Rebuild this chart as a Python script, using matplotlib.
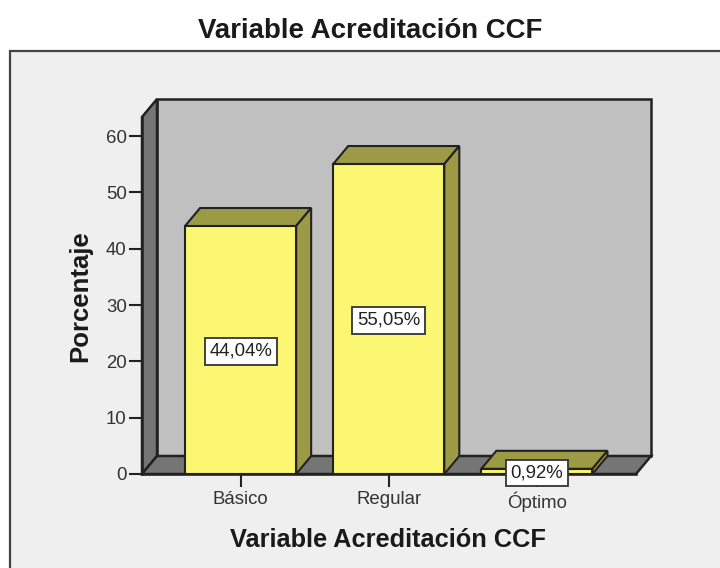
import matplotlib
matplotlib.use('Agg')
import matplotlib.pyplot as plt
from matplotlib.patches import Polygon, Rectangle

plt.rcParams['font.family'] = ['Liberation Sans', 'DejaVu Sans']

categories = ['Básico', 'Regular', 'Óptimo']
values = [44.04, 55.05, 0.92]
labels = ['44,04%', '55,05%', '0,92%']
yticks = [0, 10, 20, 30, 40, 50, 60]

edge = '#222222'
front = '#fcf772'
shade = '#9c9a45'
wall = '#c0c0c0'
floor = '#757575'

fig = plt.figure(figsize=(7.2, 5.68), dpi=100, facecolor='white')

# grey panel behind the plot, runs off the right and bottom of the image
panel = Rectangle((10 / 720, -0.02), 0.99, 1 - 51 / 568 + 0.02, transform=fig.transFigure,
                  facecolor='#efefef', edgecolor='#444444', linewidth=1.6, zorder=-1)
fig.patches.append(panel)

ax = fig.add_axes([142 / 720, (568 - 474) / 568, 494 / 720, 357 / 568])
ax.set_xlim(-0.6655, 2.669)
ax.set_ylim(0, 63.4)
ax.patch.set_visible(False)

dx = 15 / 148  # depth offset, x units
dy = 18 / 5.63   # depth offset, y units
x0, x1 = ax.get_xlim()
y1 = ax.get_ylim()[1]
bw = 0.75

ax.add_patch(Polygon([(x0 + dx, dy), (x1 + dx, dy), (x1 + dx, y1 + dy), (x0 + dx, y1 + dy)],
                     facecolor=wall, edgecolor=edge, linewidth=1.8, clip_on=False, zorder=1))
ax.add_patch(Polygon([(x0, 0), (x0 + dx, dy), (x0 + dx, y1 + dy), (x0, y1)],
                     facecolor=floor, edgecolor=edge, linewidth=1.8, clip_on=False, zorder=1.1))
ax.add_patch(Polygon([(x0, 0), (x1, 0), (x1 + dx, dy), (x0 + dx, dy)],
                     facecolor=floor, edgecolor=edge, linewidth=1.8, clip_on=False, zorder=1.1))

pos = list(range(len(values)))
ax.bar(pos, values, width=bw, color=front, edgecolor=edge, linewidth=1.5, zorder=3)
for p, v in zip(pos, values):
    l, r = p - bw / 2, p + bw / 2
    ax.add_patch(Polygon([(l, v), (r, v), (r + dx, v + dy), (l + dx, v + dy)],
                         facecolor=shade, edgecolor=edge, linewidth=1.5, clip_on=False, zorder=2.5))
    ax.add_patch(Polygon([(r, 0), (r + dx, dy), (r + dx, v + dy), (r, v)],
                         facecolor=shade, edgecolor=edge, linewidth=1.5, clip_on=False, zorder=2.5))

for p, v, t in zip(pos, values, labels):
    ax.annotate(t, (p, v / 2), xytext=(0, -1), textcoords='offset points', ha='center', va='center',
                fontsize=13.4, color='#222222', zorder=6, annotation_clip=False,
                bbox=dict(boxstyle='square,pad=0.25', facecolor='white', edgecolor='#333333', linewidth=1.3))

ax.set_xticks(pos)
ax.set_xticklabels(categories)
ax.set_yticks(yticks)
ax.tick_params(axis='both', length=9.4, width=1.5, color='#222222', labelsize=13.4, labelcolor='#333333', pad=1.5)
ax.tick_params(axis='x', pad=3)
for s in ['top', 'right']:
    ax.spines[s].set_visible(False)
for s in ['left', 'bottom']:
    ax.spines[s].set_color(edge)
    ax.spines[s].set_linewidth(1.8)
    ax.spines[s].set_zorder(4)

fig.text(370 / 720, 1 - 31 / 568, 'Variable Acreditación CCF', ha='center', va='center',
         fontsize=19.9, fontweight='bold', color='#1a1a1a')
fig.text(388 / 720, 1 - 540 / 568, 'Variable Acreditación CCF', ha='center', va='center',
         fontsize=18.3, fontweight='bold', color='#1a1a1a')
fig.text(80 / 720, 1 - 296 / 568, 'Porcentaje', ha='center', va='center', rotation=90,
         fontsize=18.5, fontweight='bold', color='#1a1a1a')

fig.savefig('out.png', dpi=100)
